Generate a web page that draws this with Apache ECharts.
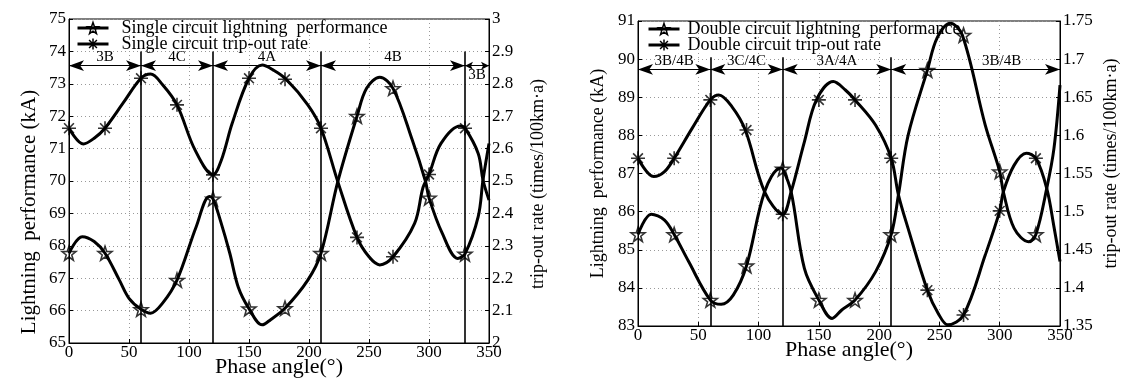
<!DOCTYPE html>
<html><head><meta charset="utf-8">
<script src="https://cdn.jsdelivr.net/npm/echarts@6/dist/echarts.min.js"></script>
<style>html,body{margin:0;padding:0;background:#fff}#c{width:1129px;height:379px}</style>
</head><body><div id="c"></div>
<script>
// ---------------- DATA ----------------
const markerAngles = [0, 30, 60, 90, 120, 150, 180, 210, 240, 270, 300, 330];

// Single circuit
const singlePerfMarkers = [67.77, 67.77, 66.04, 66.94, 69.45, 66.06, 66.07, 67.77, 72.0, 72.86, 69.48, 67.75];
const singleRateMarkers = [2.663, 2.663, 2.817, 2.735, 2.519, 2.817, 2.814, 2.663, 2.326, 2.266, 2.52, 2.663];
const singlePerfCurve = [[0,67.77],[11,68.28],[21,68.13],[30,67.77],[42,66.94],[50,66.38],[60,66.04],[68,65.92],[78,66.23],[90,66.94],[106,68.59],[117,69.52],[120,69.45],[126,68.8],[134,67.77],[141,66.73],[150,66.06],[161,65.56],[168,65.72],[180,66.07],[199,66.94],[210,67.77],[224,69.98],[240,72.0],[248,72.86],[259,73.2],[270,72.86],[286,71.27],[297,70.0],[300,69.48],[311,68.39],[324,67.61],[330,67.75],[341,68.9],[345,70.03],[350,71.16]];
const singleRateCurve = [[0,2.663],[12,2.614],[21,2.632],[30,2.663],[45,2.74],[60,2.817],[68,2.830],[78,2.797],[90,2.735],[105,2.596],[120,2.519],[127,2.565],[136,2.678],[150,2.817],[161,2.858],[170,2.843],[181,2.814],[199,2.735],[210,2.663],[224,2.498],[240,2.326],[250,2.266],[259,2.241],[270,2.266],[288,2.369],[295,2.48],[300,2.52],[310,2.616],[326,2.670],[330,2.663],[341,2.585],[345,2.503],[350,2.441]];

// Double circuit
const doublePerfMarkers = [85.40, 85.40, 83.68, 84.58, 87.12, 83.68, 83.68, 85.40, 89.71, 90.63, 87.05, 85.40];
const doubleRateMarkers = [1.570, 1.570, 1.6465, 1.607, 1.4965, 1.6465, 1.6465, 1.570, 1.397, 1.3645, 1.501, 1.570];
const doublePerfCurve = [[0,85.40],[11,85.93],[22,85.78],[30,85.40],[42,84.69],[60,83.68],[69,83.57],[79,83.81],[90,84.58],[105,86.52],[118,87.14],[120,87.12],[127,86.52],[138,84.51],[150,83.68],[161,83.20],[169,83.42],[180,83.68],[197,84.42],[210,85.40],[216,86.44],[224,88.0],[240,89.71],[248,90.55],[259,90.94],[269,90.63],[288,88.27],[300,87.05],[303,86.52],[312,85.56],[324,85.21],[330,85.40],[339,86.61],[345,87.66],[350,89.32]];
const doubleRateCurve = [[0,1.570],[13,1.546],[22,1.5525],[30,1.570],[45,1.6095],[60,1.6465],[67,1.653],[78,1.6375],[89,1.607],[105,1.526],[120,1.4965],[127,1.526],[138,1.5915],[148,1.6465],[162,1.6705],[172,1.6595],[180,1.6465],[197,1.6135],[210,1.570],[216,1.522],[224,1.478],[240,1.397],[249,1.3665],[257,1.3515],[270,1.3645],[288,1.443],[300,1.501],[303,1.526],[312,1.561],[322,1.5765],[330,1.570],[339,1.5305],[345,1.48],[350,1.4345]];

// Zone annotations
const singleBounds = [0, 60, 120, 210, 330, 350];
const singleZones = ['3B', '4C', '4A', '4B', '3B'];
const singleVLines = [60, 120, 210, 330];
const doubleBounds = [0, 60, 120, 210, 350];
const doubleZones = ['3B/4B', '3C/4C', '3A/4A', '3B/4B'];
const doubleVLines = [60, 120, 210];

// Axis ranges / ticks
const xTicks = { min: 0, max: 350, interval: 50 };
const singleLeftAxis = { min: 65, max: 75, interval: 1 };
const singleRightAxis = { min: 2, max: 3, interval: 0.1 };
const doubleLeftAxis = { min: 83, max: 91, interval: 1 };
const doubleRightAxis = { min: 1.35, max: 1.75, interval: 0.05 };

// Names
const singleNames = ['Single circuit lightning  performance', 'Single circuit trip-out rate'];
const doubleNames = ['Double circuit lightning  performance', 'Double circuit trip-out rate'];
const xName = 'Phase angle(°)';
const leftName = 'Lightning  performance (kA)';
const rightName = 'trip-out rate (times/100km·a)';

// ---------------- STYLE ----------------
const FONT = 'Liberation Serif';
const STAR = 'path://M0,-10L2.351,-3.236L9.511,-3.09L3.804,1.236L5.878,8.09L0,4L-5.878,8.09L-3.804,1.236L-9.511,-3.09L-2.351,-3.236Z';
const AST = 'path://M-10,0L10,0M0,-10L0,10M-7,-7L7,7M-7,7L7,-7';

function xAxis(gi, gap) {
  return {
    type: 'value', gridIndex: gi, min: xTicks.min, max: xTicks.max, interval: xTicks.interval,
    name: xName, nameLocation: 'middle', nameGap: gap, nameMoveOverlap: false,
    nameTextStyle: { fontFamily: FONT, fontSize: 22, color: '#000' },
    axisLine: { lineStyle: { color: '#000', width: 1 } },
    axisTick: { inside: true, length: 4, lineStyle: { color: '#000' } },
    axisLabel: { fontFamily: FONT, fontSize: 17, color: '#000', margin: 1 },
    splitLine: { show: true, lineStyle: { color: '#999', type: [1, 3], width: 1 } }
  };
}
function yAxis(gi, rng, pos, name, gap, split, fs, pad) {
  return {
    type: 'value', gridIndex: gi, position: pos, min: rng.min, max: rng.max, interval: rng.interval,
    name: name, nameLocation: 'middle', nameGap: gap, nameRotate: 90, nameMoveOverlap: false,
    nameTextStyle: { fontFamily: FONT, fontSize: fs, color: '#000', padding: pad },
    axisLine: { show: true, lineStyle: { color: '#000', width: 1 } },
    axisTick: { show: true, inside: true, length: 4, lineStyle: { color: '#000' } },
    axisLabel: { fontFamily: FONT, fontSize: 17, color: '#000', margin: 3 },
    splitLine: { show: split, lineStyle: { color: '#999', type: [1, 3], width: 1 } }
  };
}

function markLines(bounds, zones, vlines, vBottom, vTop, arrowY, smallLast, lastShift) {
  const data = [];
  vlines.forEach(v => data.push([{ coord: [v, vBottom] }, { coord: [v, vTop] }]));
  for (let i = 0; i < zones.length; i++) {
    const last = i === zones.length - 1;
    const small = smallLast && last;
    const sz = small ? [6, 8] : [8, 15];
    const pad = (last && lastShift) ? [0, 0, 0, lastShift] : 0;
    data.push([
      { coord: [bounds[i], arrowY], symbol: 'arrow', symbolSize: sz,
        lineStyle: { width: 1 },
        label: { show: true, formatter: zones[i], position: small ? 'insideMiddleBottom' : 'middle',
                 distance: small ? 2 : 1, padding: pad, fontFamily: FONT, fontSize: 15, color: '#000' } },
      { coord: [bounds[i + 1], arrowY], symbol: 'arrow', symbolSize: sz }
    ]);
  }
  return {
    silent: true, animation: false, symbol: 'none',
    lineStyle: { color: '#000', width: 1.6, type: 'solid' },
    label: { show: false },
    emphasis: { disabled: true },
    data: data
  };
}

function lineSeries(name, xi, yi, data, sym, ml) {
  const s = {
    type: 'line', name: name, xAxisIndex: xi, yAxisIndex: yi, data: data,
    smooth: 0.35, showSymbol: false, symbol: sym, symbolSize: 13,
    lineStyle: { color: '#000', width: 3 },
    itemStyle: { color: 'transparent', borderColor: '#000', borderWidth: 1.5 },
    z: 3, animation: false
  };
  if (ml) s.markLine = ml;
  return s;
}
function markerSeries(name, xi, yi, vals, sym) {
  return {
    type: 'scatter', name: name, xAxisIndex: xi, yAxisIndex: yi,
    data: markerAngles.map((a, i) => [a, vals[i]]),
    symbol: sym, symbolSize: 14,
    itemStyle: { color: 'transparent', borderColor: '#000', borderWidth: 1.6 },
    z: 5, animation: false, silent: true
  };
}
function legend(names, left, top, textGap) {
  return {
    data: names, orient: 'vertical', left: left, top: top, padding: 0,
    itemWidth: 31, itemHeight: 14, itemGap: -2,
    textStyle: { fontFamily: FONT, fontSize: 18, color: '#000', padding: [0, 0, 0, textGap] },
    selectedMode: false, z: 10,
    itemStyle: { borderColor: '#000', borderWidth: 1.5 }, lineStyle: { color: '#000', width: 3 }
  };
}

const option = {
  animation: false,
  backgroundColor: '#fff',
  grid: [
    { left: 69, right: 640, top: 19, bottom: 36, show: true, borderColor: '#000', borderWidth: 1,
      containLabel: false, outerBoundsMode: 'none' },
    { left: 638, right: 69, top: 21, bottom: 53, show: true, borderColor: '#000', borderWidth: 1,
      containLabel: false, outerBoundsMode: 'none' }
  ],
  legend: [legend(singleNames, 76, 19, 8), legend(doubleNames, 647, 20, 3)],
  xAxis: [xAxis(0, 13), xAxis(1, 13)],
  yAxis: [
    yAxis(0, singleLeftAxis, 'left', leftName, 29, true, 21, [0, 62, 0, 0]),
    yAxis(0, singleRightAxis, 'right', rightName, 40, false, 18, [0, 6, 0, 0]),
    yAxis(1, doubleLeftAxis, 'left', leftName, 31, true, 18, 0),
    yAxis(1, doubleRightAxis, 'right', rightName, 42, false, 18, [0, 0, 0, 20])
  ],
  series: [
    lineSeries(singleNames[0], 0, 0, singlePerfCurve, STAR,
      markLines(singleBounds, singleZones, singleVLines, 65, 74.0, 73.56, true, 0)),
    lineSeries(singleNames[1], 0, 1, singleRateCurve, AST),
    markerSeries('sp_m', 0, 0, singlePerfMarkers, STAR),
    markerSeries('sr_m', 0, 1, singleRateMarkers, AST),
    lineSeries(doubleNames[0], 1, 2, doublePerfCurve, STAR,
      markLines(doubleBounds, doubleZones, doubleVLines, 83, 90.05, 89.73, false, 52)),
    lineSeries(doubleNames[1], 1, 3, doubleRateCurve, AST),
    markerSeries('dp_m', 1, 2, doublePerfMarkers, STAR),
    markerSeries('dr_m', 1, 3, doubleRateMarkers, AST)
  ]
};
const chart = echarts.init(document.getElementById('c'));
chart.setOption(option);
</script></body></html>
